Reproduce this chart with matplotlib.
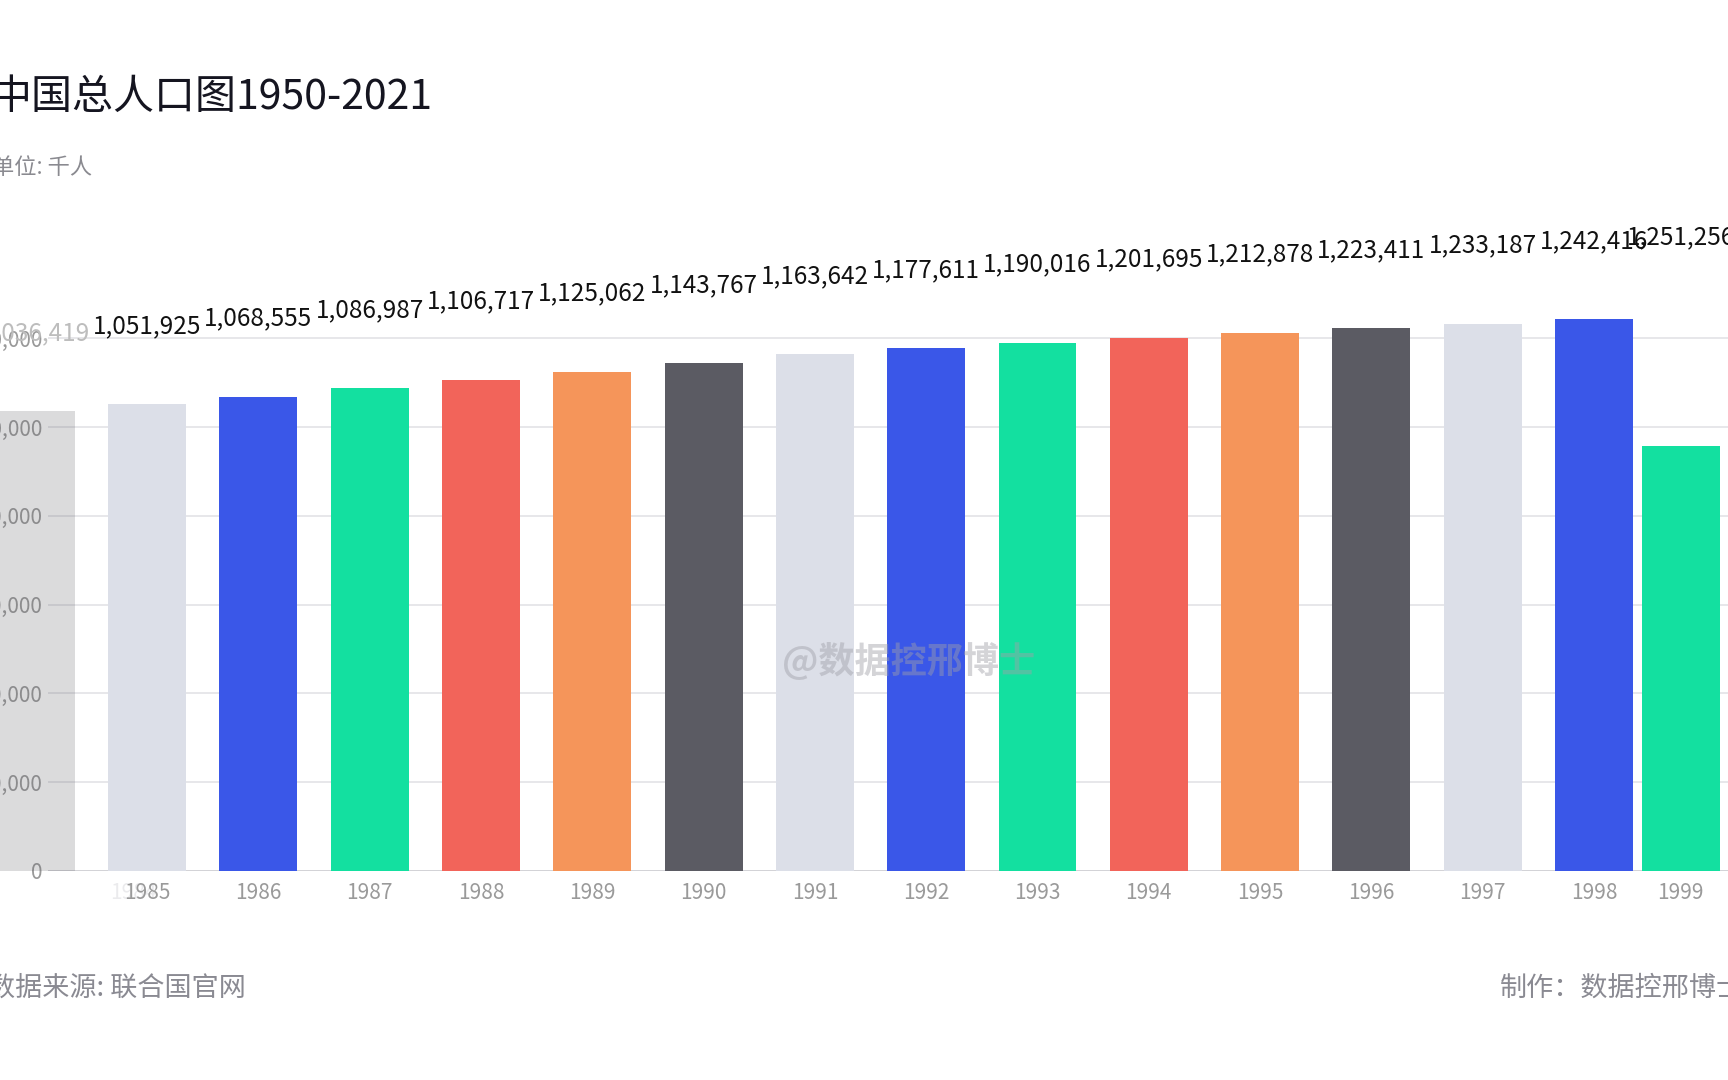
import matplotlib
matplotlib.use("Agg")
import matplotlib.pyplot as plt
from matplotlib.ticker import FuncFormatter

plt.rcParams['font.family'] = ['Noto Sans CJK SC', 'DejaVu Sans']

# ---- data ----
years = ["1985", "1986", "1987", "1988", "1989", "1990", "1991", "1992",
         "1993", "1994", "1995", "1996", "1997", "1998", "1999"]
label_values = [1051925, 1068555, 1086987, 1106717, 1125062, 1143767, 1163642,
                1177611, 1190016, 1201695, 1212878, 1223411, 1233187, 1242416,
                1251256]
# heights shown in this animation frame (1999 bar still growing)
bar_values = [1051925, 1068555, 1086987, 1106717, 1125062, 1143767, 1163642,
              1177611, 1190016, 1201695, 1212878, 1223411, 1233187, 1242416,
              957000]
# positions in this frame (1999 bar still sliding in)
positions = [0, 1, 2, 3, 4, 5, 6, 7, 8, 9, 10, 11, 12, 13, 13.78]
fading_year = "1984"
fading_value = 1036419
y_ticks = [0, 200000, 400000, 600000, 800000, 1000000, 1200000]

palette = ["#dcdfe8", "#3a57e8", "#13e0a0", "#f2645a", "#f5955a", "#5b5b63"]
colors = [palette[i % 6] for i in range(len(years))]

W, H = 1728, 1080
fig = plt.figure(figsize=(W / 100, H / 100), dpi=100)
fig.patch.set_facecolor("white")

# axes geometry (pixels)
ax_left_px = 48
zero_px = 870.7
units_per_px = 2254.0
ymax = 1300000
top_px = zero_px - ymax / units_per_px
ax = fig.add_axes([ax_left_px / W, 1 - zero_px / H, 1 - ax_left_px / W,
                   (zero_px - top_px) / H])
step_px = 111.3
xmin = -(147.1 - ax_left_px) / step_px
xmax = xmin + (W - ax_left_px) / step_px
ax.set_xlim(xmin, xmax)
ax.set_ylim(0, ymax)

for s in ax.spines.values():
    s.set_visible(False)
ax.set_yticks(y_ticks)
ax.yaxis.set_major_formatter(FuncFormatter(lambda v, p: f"{int(v):,}"))
ax.tick_params(axis="y", length=0, pad=4, labelsize=15, labelcolor="#9a9a9a")
ax.grid(axis="y", color="#e3e3e6", lw=1.2, zorder=0)
ax.set_axisbelow(True)
ax.axhline(0, color="#d0d0d4", lw=1.2, zorder=1)

# fading bar from previous step
ax.bar(-1, fading_value, width=0.70, color="#5b5b63", alpha=0.22,
       clip_on=False, zorder=2, linewidth=0)
ax.annotate(f"{fading_value:,}", (-1, fading_value), xytext=(0, 78),
            textcoords="offset pixels", ha="center", va="center",
            fontsize=17.5, color="#bdbdbd", annotation_clip=False)

ax.bar(positions, bar_values, width=0.70, color=colors, zorder=2,
       linewidth=0, clip_on=False)
for x, lv in zip(positions, label_values):
    ax.annotate(f"{lv:,}", (x, lv), xytext=(0, 78),
                textcoords="offset pixels", ha="center", va="center",
                fontsize=17.5, color="#111111", annotation_clip=False)

ax.set_xticks(positions)
ax.set_xticklabels(years)
ax.tick_params(axis="x", length=0, pad=8, labelsize=15, labelcolor="#9a9a9a")
# fading year label (sliding out)
ax.annotate(fading_year, xy=(-0.127, 0), xycoords=("data", "axes fraction"),
            xytext=(0, -11.1), textcoords="offset pixels", ha="center",
            va="top", fontsize=15, color="#ebebed", zorder=0,
            annotation_clip=False)

# texts
fig.text(-10 / W, 1 - 97 / H, "中国总人口图1950-2021", fontsize=29.5,
         color="#151520", va="center", ha="left")
fig.text(-8 / W, 1 - 167 / H, "单位: 千人", fontsize=16, color="#8a8a90",
         va="center", ha="left")
fig.text(-12 / W, 1 - 988 / H, "数据来源: 联合国官网", fontsize=19.5,
         color="#8a8a92", va="center", ha="left")
fig.text(1500 / W, 1 - 988 / H, "制作：数据控邢博士", fontsize=19.5,
         color="#8a8a92", va="center", ha="left")
fig.text(909 / W, 1 - 662 / H, "@数据控邢博士", fontsize=26,
         color="#a0a0a8", alpha=0.45, fontweight="bold", va="center",
         ha="center", zorder=10)

fig.savefig("out.png", dpi=100, facecolor="white")
